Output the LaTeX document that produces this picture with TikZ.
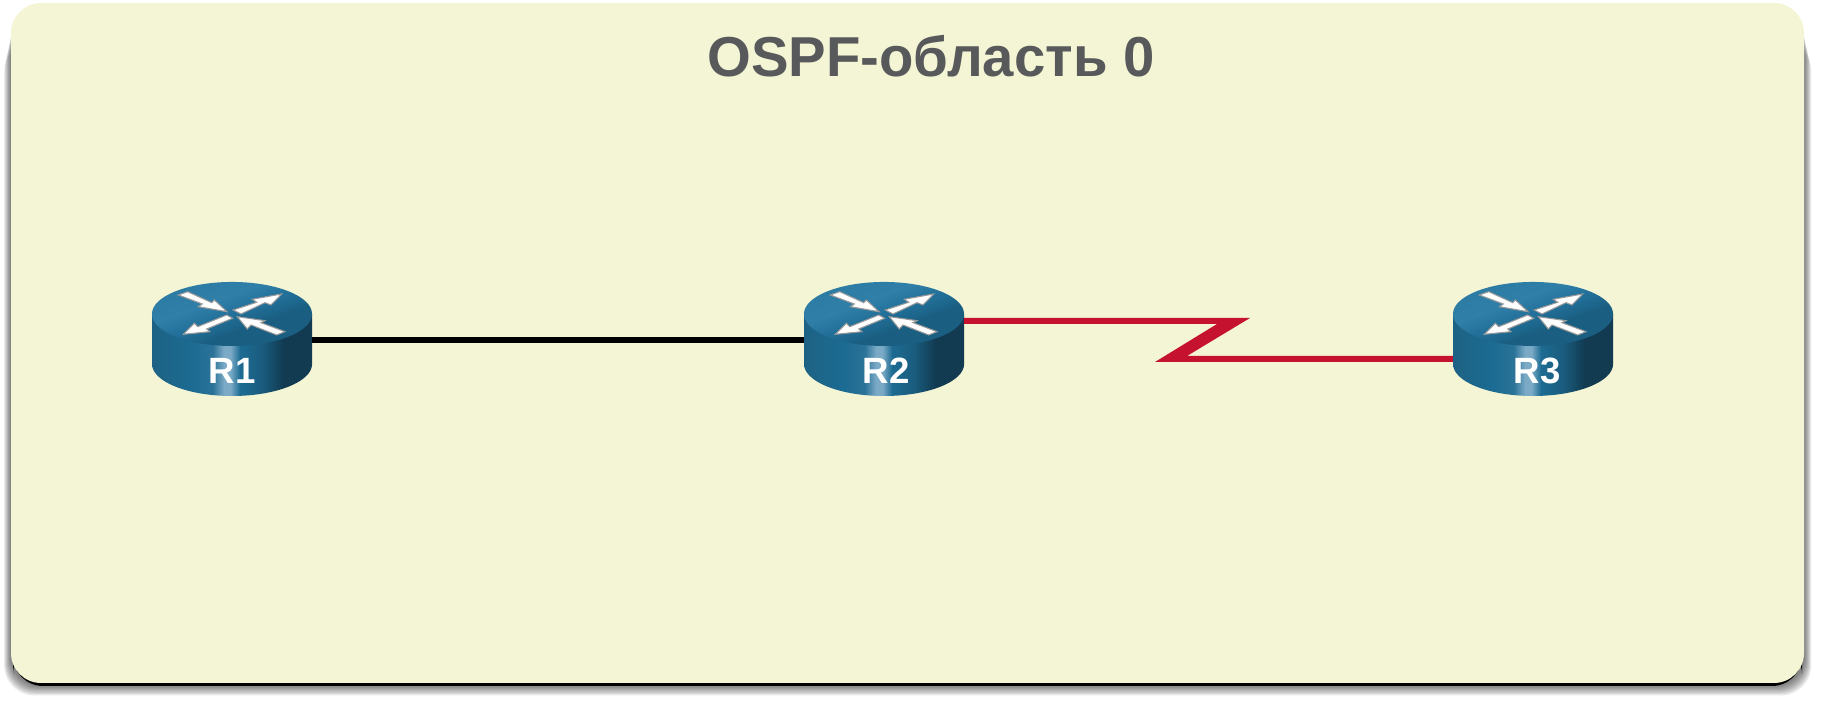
\documentclass[tikz,border=0pt]{standalone}
\usepackage{fontspec}
\setmainfont{Liberation Sans}
\usetikzlibrary{calc}

\definecolor{panelcol}{HTML}{F4F5D4}
\definecolor{titlecol}{HTML}{58595B}
\definecolor{serialcol}{HTML}{C4122F}
\definecolor{bodyA}{HTML}{1D6284}
\definecolor{bodyB}{HTML}{1C6B92}
\definecolor{bodyC}{HTML}{2B7298}
\definecolor{bodyD}{HTML}{7BAAC6}
\definecolor{bodyE}{HTML}{1A5C7E}
\definecolor{bodyF}{HTML}{123B52}
\definecolor{lidA}{HTML}{1A5F82}
\definecolor{lidB}{HTML}{22709A}
\definecolor{lidC}{HTML}{2F7FA8}
\definecolor{lidD}{HTML}{24749C}
\pgfdeclarehorizontalshading{routerbody}{100bp}{
  color(0bp)=(bodyA); color(25bp)=(bodyA); color(37.5bp)=(bodyB); color(44bp)=(bodyC);
  color(47.5bp)=(bodyD); color(49.5bp)=(bodyD); color(52.5bp)=(bodyB); color(59.4bp)=(bodyE);
  color(66bp)=(bodyF); color(100bp)=(bodyF)}
\pgfdeclareverticalshading{routertop}{100bp}{
  color(0bp)=(lidA); color(40bp)=(lidA); color(50bp)=(lidB); color(60bp)=(lidC); color(100bp)=(lidD)}

\begin{document}
\begin{tikzpicture}[x=0.01cm, y=0.01cm,
    routerbox/.style={minimum width=1.6cm, minimum height=1.1cm, inner sep=0pt, outer sep=0pt},
    routertext/.style={text=white, font=\fontsize{10.4}{12}\selectfont\bfseries},
    titletext/.style={text=titlecol, font=\fontsize{16}{20}\selectfont\bfseries},
    arrowmark/.style={fill=white, draw=black!40, line width=0.3pt, line join=miter}]
    \useasboundingbox (0,0) rectangle (1821,704);

    % --- soft edge under the area panel ---
    \foreach \s in {1,...,8} {
        \fill[black, opacity=0.08, rounded corners=0.3cm]
            ({11-0.85*\s},{19-1.3*\s}) rectangle ({1804+0.9*\s},{694-4*\s});
    }
    \fill[black, rounded corners=0.3cm] (13,18) rectangle (1802,60);

    % --- area panel ---
    \fill[panelcol, rounded corners=0.3cm] (11,21) rectangle (1804,701);
    \node[titletext] (areatitle) at (931,648) {OSPF-область 0};

    % --- routers ---
    \foreach \name/\cx/\tx/\lab in {r1/232/232/R1, r2/884/886/R2, r3/1533/1537/R3} {
        \node[routerbox] (\name) at (\cx,364) {};
        \begin{scope}[shift={(\cx,364)}]
            \shade[shading=routerbody]
                (-80,26) -- (-80,-24) arc[start angle=180, end angle=360, x radius=0.8cm, y radius=0.32cm]
                -- (80,26) -- cycle;
            \shade[shading=routertop, shading angle=20] (0,26) ellipse (0.8cm and 0.32cm);
            % four arrows on the lid
            \draw[arrowmark] (-53.7,45) -- (-44.3,48.3) -- (-20.3,37.3) -- (-17.7,40) -- (-5,28.3) -- (-33.7,33.3) -- (-29.7,36) -- cycle;
            \draw[arrowmark] (1.3,30) -- (9,26) -- (33,37.3) -- (39,35) -- (49.7,46) -- (20.3,40.7) -- (24.7,37.7) -- cycle;
            \draw[arrowmark] (-5.3,25) -- (-34.3,13.3) -- (-37.7,16.7) -- (-48.7,5.7) -- (-22,8.3) -- (-25.3,11) -- (0.7,21.7) -- cycle;
            \draw[arrowmark] (5.3,23.3) -- (33,19.3) -- (29,17.3) -- (53,8.3) -- (44.7,5) -- (19,15) -- (15.3,11) -- cycle;
        \end{scope}
        \node[routertext] (\name label) at (\tx,333) {\lab};
    }

    % --- links ---
    \draw[black, line width=0.06cm] (r1.east) -- (r2.west);
    \fill[serialcol]
        ($(r2.east)+(0,22)$) -- (1250,386) -- (1187,348)
        -- ($(r3.west)+(0,-16)$) -- ($(r3.west)+(0,-22)$)
        -- (1155,342) -- (1217,380) -- ($(r2.east)+(0,16)$) -- cycle;
\end{tikzpicture}
\end{document}
